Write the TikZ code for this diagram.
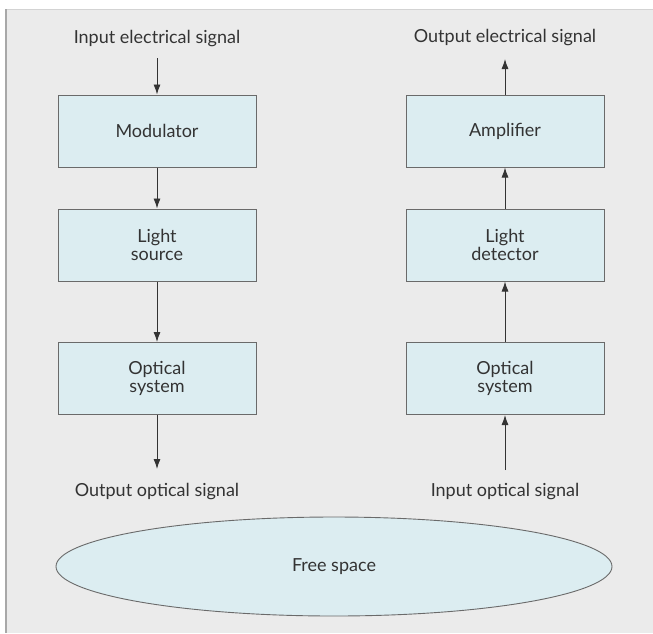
\documentclass[tikz,border=0pt]{standalone}
\usepackage{fontspec}
\setmainfont{Lato}
\usetikzlibrary{arrows.meta,shapes.geometric}

\definecolor{panelgray}{HTML}{EBEBEB}
\definecolor{panelline}{HTML}{A8A8A8}
\definecolor{boxfill}{HTML}{DCEDF1}
\definecolor{boxline}{HTML}{6A6A6A}
\definecolor{inkgray}{HTML}{333333}

\tikzset{
  blockbox/.style={draw=boxline, fill=boxfill, line width=1pt,
    minimum width=198pt, minimum height=72pt, inner sep=0pt,
    align=center, font=\fontsize{18}{17.5}\selectfont, text=inkgray},
  sigtext/.style={font=\fontsize{18}{17.5}\selectfont, text=inkgray},
  flow/.style={draw=inkgray, line width=0.9pt, -{Latex[length=10pt,width=7pt]}}
}

\begin{document}
\begin{tikzpicture}[x=1pt, y=-1pt]
  % column centres and box rows
  \def\xl{157}
  \def\xr{505}

  \useasboundingbox (0,0) rectangle (653,633);

  % 1. panel
  \fill[panelgray] (6,9) rectangle (653,633);
  \draw[panelline!50, line width=1pt] (6,9.5) -- (653,9.5);
  \draw[panelline, line width=2pt] (6,9) -- (6,633);

  % 2. transmitter (left)
  \node[sigtext] (inelec) at (\xl,39) {Input electrical signal};
  \node[blockbox] (modulator) at (\xl,131) {Modulator};
  \node[blockbox] (lightsrc) at (\xl,245) {Light\\source};
  \node[blockbox] (optout) at (\xl,378.5) {Optical\\system};
  \node[sigtext] (outopt) at (\xl,492) {Output optical signal};
  \coordinate (inelecend) at (\xl,58);
  \coordinate (outoptend) at (\xl,469);

  \draw[flow] (inelecend) -- (modulator);
  \draw[flow] (modulator) -- (lightsrc);
  \draw[flow] (lightsrc) -- (optout);
  \draw[flow] (optout) -- (outoptend);

  % 3. receiver (right)
  \node[sigtext] (outelec) at (\xr,38) {Output electrical signal};
  \node[blockbox] (amplifier) at (\xr,131) {Amplifier};
  \node[blockbox] (detector) at (\xr,245) {Light\\detector};
  \node[blockbox] (optin) at (\xr,378.5) {Optical\\system};
  \node[sigtext] (inopt) at (\xr,492) {Input optical signal};
  \coordinate (outelecend) at (\xr,59);
  \coordinate (inoptend) at (\xr,470);

  \draw[flow] (inoptend) -- (optin);
  \draw[flow] (optin) -- (detector);
  \draw[flow] (detector) -- (amplifier);
  \draw[flow] (amplifier) -- (outelecend);

  % 4. free space
  \node[ellipse, draw=boxline, fill=boxfill, line width=0.9pt,
    minimum width=556pt, minimum height=99pt, inner sep=0pt,
    sigtext] (freespace) at (334,566.5) {Free space};
\end{tikzpicture}
\end{document}
